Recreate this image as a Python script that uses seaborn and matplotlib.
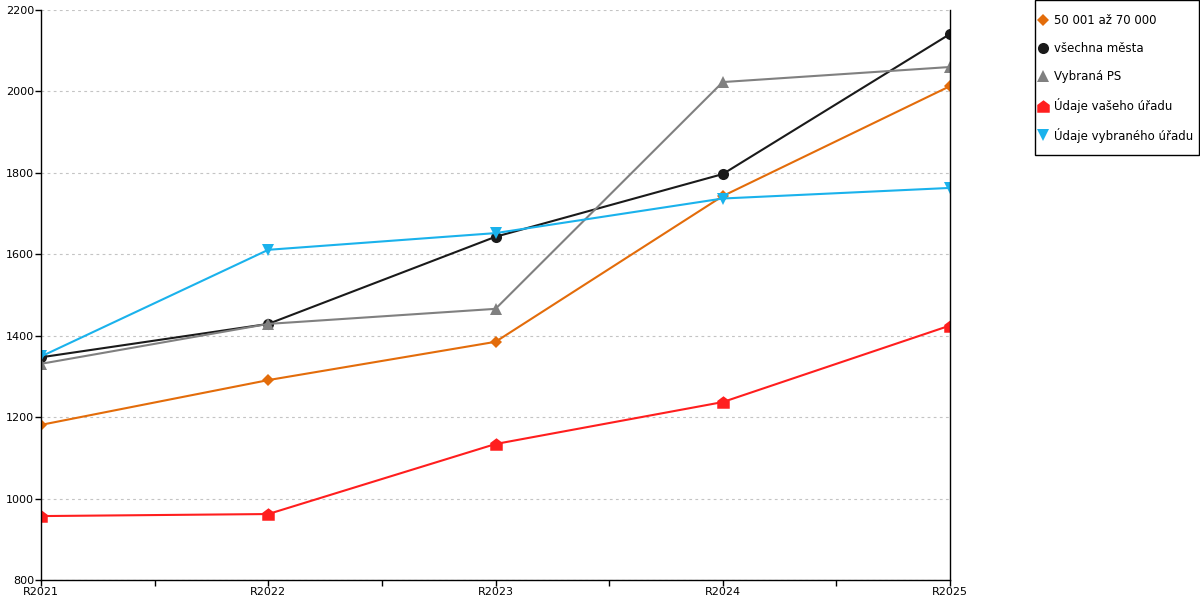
import matplotlib
matplotlib.use("Agg")
import matplotlib.pyplot as plt
import seaborn as sns
from matplotlib.lines import Line2D
from matplotlib.patches import Rectangle
from matplotlib.path import Path

years = ["R2021", "R2022", "R2023", "R2024", "R2025"]

mesta_50_70 = [1181, 1291, 1385, 1743, 2013]
vsechna_mesta = [1347, 1429, 1643, 1797, 2141]
vybrana_ps = [1331, 1429, 1466, 2023, 2060]
vas_urad = [957, 962, 1134, 1237, 1425]
vybrany_urad = [1349, 1611, 1652, 1737, 1763]

labels = ["50 001 až 70 000", "všechna města", "Vybraná PS",
          "Údaje vašeho úřadu", "Údaje vybraného úřadu"]

# house-shaped marker for "your office"
house = Path([(-1, -1), (1, -1), (1, 0.25), (0, 1), (-1, 0.25), (-1, -1)],
             [Path.MOVETO, Path.LINETO, Path.LINETO, Path.LINETO, Path.LINETO, Path.CLOSEPOLY])

series = [
    (mesta_50_70, "#E36C0A", "D", 6),
    (vsechna_mesta, "#1a1a1a", "o", 8),
    (vybrana_ps, "#808080", "^", 8),
    (vas_urad, "#FF1E1E", house, 9),
    (vybrany_urad, "#1AB2EC", "v", 8),
]

sns.set_style("white")
plt.rcParams['font.family'] = ['DejaVu Sans']
plt.rcParams['text.color'] = 'black'

fig = plt.figure(figsize=(12, 6), dpi=100)
ax = fig.add_axes([41 / 1200, 20 / 600, 909 / 1200, 570 / 600])

for vals, col, mk, ms in series:
    sns.lineplot(x=years, y=vals, ax=ax, color=col, marker=mk, markersize=ms,
                 markeredgewidth=0, linewidth=1.5, sort=False)

ax.set_xlim(0, 4)
ax.set_ylim(800, 2200)
ax.set_yticks(range(800, 2201, 200))
ax.set_xticks(range(5))
ax.set_xticklabels(years)
ax.set_xticks([0.5, 1.5, 2.5, 3.5], minor=True)
ax.tick_params(axis="both", which="both", direction="out", length=4, width=1,
               color="black", labelcolor="black", labelsize=8, pad=1,
               bottom=True, left=True)
ax.grid(axis="y", linestyle=(0, (2.5, 3)), color="#c4c4c4", linewidth=0.8)
ax.set_axisbelow(True)

for side in ["left", "bottom", "right"]:
    ax.spines[side].set_color("black")
    ax.spines[side].set_linewidth(1)
ax.spines["top"].set_visible(False)
ax.set_xlabel("")
ax.set_ylabel("")

# legend without its own frame, box drawn separately (padding differs per side)
handles = [Line2D([], [], linestyle="none", marker=mk, color=col, markersize=ms,
                  markeredgewidth=0) for _, col, mk, ms in series]
leg = fig.legend(handles, labels, loc="upper left",
                 bbox_to_anchor=(1038 / 1200, 1 - 14.5 / 600),
                 frameon=False, fontsize=8.5, labelspacing=1.25,
                 handlelength=0.8, handletextpad=0.55, borderpad=0, borderaxespad=0)
fig.patches.append(Rectangle((1034.5 / 1200, (600 - 155) / 600), 164 / 1200, 154.5 / 600,
                             transform=fig.transFigure, fill=False,
                             edgecolor="black", linewidth=1))

fig.savefig("out.png", dpi=100)
